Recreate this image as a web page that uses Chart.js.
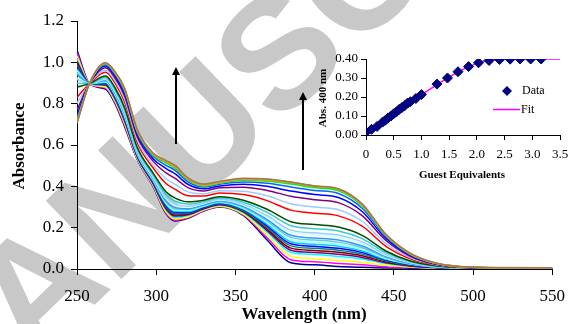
<!DOCTYPE html>
<html>
<head>
<meta charset="utf-8">
<script src="https://cdn.jsdelivr.net/npm/chart.js@4.4.1/dist/chart.umd.min.js"></script>
<style>
  html, body { margin: 0; padding: 0; background: #fff; }
  #wrap { position: relative; width: 576px; height: 324px; overflow: hidden; }
  #main { position: absolute; left: 0; top: 0; }
  #inset { position: absolute; left: 290px; top: 40px; }
</style>
</head>
<body>
<div id="wrap">
  <canvas id="main" width="576" height="324"></canvas>
  <canvas id="inset" width="286" height="150"></canvas>
</div>
<script>
// wavelengths (nm) shared by every spectrum
const wavelengths = [250, 258, 268, 274, 280, 288, 298, 306, 312, 320, 330, 340, 355, 370, 385, 400, 415, 430, 445, 460, 475, 490, 510, 550];

// absorbance spectra, one per guest addition (0 eq first)
const spec00 = [1.060, 0.895, 0.870, 0.800, 0.690, 0.530, 0.400, 0.270, 0.232, 0.245, 0.280, 0.300, 0.260, 0.140, 0.030, 0.020, 0.012, 0.008, 0.005, 0.004, 0.003, 0.003, 0.003, 0.003];
const spec01 = [1.046, 0.895, 0.875, 0.806, 0.697, 0.532, 0.402, 0.274, 0.236, 0.248, 0.282, 0.302, 0.263, 0.151, 0.045, 0.035, 0.027, 0.020, 0.011, 0.007, 0.004, 0.003, 0.003, 0.003];
const spec02 = [1.032, 0.895, 0.880, 0.812, 0.704, 0.535, 0.406, 0.279, 0.242, 0.252, 0.285, 0.304, 0.266, 0.163, 0.061, 0.050, 0.041, 0.032, 0.018, 0.010, 0.005, 0.004, 0.003, 0.003];
const spec03 = [1.014, 0.896, 0.887, 0.820, 0.714, 0.540, 0.411, 0.288, 0.251, 0.259, 0.289, 0.309, 0.273, 0.178, 0.081, 0.070, 0.061, 0.048, 0.026, 0.013, 0.007, 0.004, 0.003, 0.003];
const spec04 = [1.005, 0.896, 0.890, 0.824, 0.718, 0.543, 0.414, 0.293, 0.256, 0.262, 0.291, 0.311, 0.276, 0.186, 0.091, 0.080, 0.071, 0.056, 0.030, 0.015, 0.007, 0.004, 0.003, 0.003];
const spec05 = [0.996, 0.896, 0.893, 0.828, 0.723, 0.546, 0.417, 0.298, 0.261, 0.266, 0.294, 0.313, 0.279, 0.193, 0.101, 0.090, 0.081, 0.064, 0.034, 0.017, 0.008, 0.005, 0.003, 0.003];
const spec06 = [0.986, 0.896, 0.896, 0.832, 0.728, 0.549, 0.421, 0.303, 0.267, 0.270, 0.297, 0.316, 0.283, 0.201, 0.112, 0.100, 0.091, 0.072, 0.039, 0.019, 0.009, 0.005, 0.004, 0.003];
const spec07 = [0.977, 0.896, 0.900, 0.836, 0.733, 0.552, 0.424, 0.309, 0.273, 0.274, 0.299, 0.318, 0.287, 0.209, 0.122, 0.110, 0.100, 0.080, 0.043, 0.021, 0.009, 0.005, 0.004, 0.003];
const spec08 = [0.968, 0.896, 0.903, 0.840, 0.737, 0.555, 0.427, 0.314, 0.278, 0.278, 0.302, 0.321, 0.290, 0.216, 0.132, 0.120, 0.110, 0.087, 0.047, 0.023, 0.010, 0.005, 0.004, 0.003];
const spec09 = [0.959, 0.896, 0.906, 0.843, 0.742, 0.558, 0.431, 0.320, 0.284, 0.283, 0.305, 0.324, 0.294, 0.224, 0.142, 0.130, 0.120, 0.095, 0.051, 0.025, 0.011, 0.006, 0.004, 0.003];
const spec10 = [0.949, 0.897, 0.910, 0.847, 0.747, 0.561, 0.435, 0.326, 0.291, 0.288, 0.308, 0.326, 0.299, 0.232, 0.153, 0.140, 0.130, 0.103, 0.056, 0.026, 0.012, 0.006, 0.004, 0.003];
const spec11 = [0.940, 0.897, 0.913, 0.851, 0.752, 0.565, 0.438, 0.332, 0.297, 0.292, 0.311, 0.329, 0.303, 0.239, 0.163, 0.150, 0.140, 0.111, 0.060, 0.028, 0.012, 0.006, 0.004, 0.003];
const spec12 = [0.926, 0.897, 0.918, 0.857, 0.759, 0.570, 0.444, 0.342, 0.307, 0.299, 0.316, 0.334, 0.310, 0.251, 0.178, 0.165, 0.155, 0.123, 0.066, 0.031, 0.013, 0.006, 0.004, 0.003];
const spec13 = [0.917, 0.897, 0.921, 0.861, 0.763, 0.574, 0.448, 0.348, 0.314, 0.304, 0.319, 0.337, 0.314, 0.258, 0.188, 0.175, 0.164, 0.131, 0.070, 0.033, 0.014, 0.007, 0.004, 0.003];
const spec14 = [0.899, 0.897, 0.928, 0.869, 0.773, 0.581, 0.457, 0.361, 0.328, 0.314, 0.326, 0.343, 0.323, 0.274, 0.209, 0.195, 0.184, 0.147, 0.079, 0.037, 0.015, 0.007, 0.004, 0.003];
const spec15 = [0.880, 0.898, 0.934, 0.877, 0.782, 0.589, 0.465, 0.375, 0.343, 0.325, 0.333, 0.350, 0.333, 0.289, 0.229, 0.215, 0.203, 0.163, 0.087, 0.040, 0.017, 0.008, 0.005, 0.004];
const spec16 = [0.830, 0.898, 0.952, 0.899, 0.808, 0.611, 0.490, 0.415, 0.385, 0.355, 0.353, 0.368, 0.360, 0.331, 0.285, 0.270, 0.257, 0.207, 0.110, 0.051, 0.021, 0.009, 0.005, 0.004];
const spec17 = [0.802, 0.899, 0.962, 0.911, 0.823, 0.624, 0.504, 0.438, 0.409, 0.373, 0.364, 0.379, 0.376, 0.354, 0.316, 0.300, 0.287, 0.231, 0.123, 0.056, 0.023, 0.010, 0.005, 0.004];
const spec18 = [0.770, 0.899, 0.974, 0.924, 0.839, 0.640, 0.522, 0.466, 0.438, 0.394, 0.378, 0.393, 0.396, 0.380, 0.352, 0.335, 0.321, 0.258, 0.138, 0.063, 0.025, 0.010, 0.005, 0.004];
const spec19 = [0.747, 0.899, 0.982, 0.934, 0.851, 0.651, 0.534, 0.487, 0.460, 0.410, 0.388, 0.402, 0.410, 0.400, 0.377, 0.360, 0.346, 0.278, 0.148, 0.068, 0.027, 0.011, 0.006, 0.005];
const spec20 = [0.729, 0.900, 0.988, 0.942, 0.861, 0.661, 0.545, 0.503, 0.477, 0.422, 0.397, 0.410, 0.421, 0.415, 0.397, 0.380, 0.365, 0.294, 0.157, 0.071, 0.029, 0.012, 0.006, 0.005];
const spec21 = [0.716, 0.900, 0.993, 0.947, 0.867, 0.667, 0.551, 0.514, 0.489, 0.431, 0.402, 0.415, 0.429, 0.425, 0.411, 0.393, 0.378, 0.305, 0.162, 0.074, 0.030, 0.012, 0.006, 0.005];
const spec22 = [0.713, 0.900, 0.994, 0.949, 0.869, 0.669, 0.553, 0.517, 0.492, 0.433, 0.404, 0.417, 0.431, 0.428, 0.415, 0.397, 0.382, 0.308, 0.164, 0.074, 0.030, 0.012, 0.006, 0.005];
const spec23 = [0.710, 0.900, 0.995, 0.950, 0.870, 0.670, 0.555, 0.520, 0.495, 0.435, 0.405, 0.418, 0.433, 0.430, 0.418, 0.400, 0.385, 0.310, 0.165, 0.075, 0.030, 0.012, 0.006, 0.005];
const spec24 = [0.712, 0.900, 0.996, 0.952, 0.872, 0.672, 0.557, 0.522, 0.497, 0.437, 0.407, 0.420, 0.435, 0.432, 0.419, 0.400, 0.386, 0.312, 0.166, 0.076, 0.031, 0.012, 0.006, 0.005];
const spec25 = [0.708, 0.900, 0.997, 0.953, 0.874, 0.674, 0.559, 0.524, 0.499, 0.439, 0.409, 0.422, 0.437, 0.434, 0.420, 0.401, 0.387, 0.313, 0.167, 0.077, 0.031, 0.013, 0.007, 0.005];
const spec26 = [0.705, 0.900, 0.998, 0.955, 0.876, 0.676, 0.561, 0.526, 0.501, 0.441, 0.411, 0.424, 0.439, 0.436, 0.421, 0.402, 0.388, 0.315, 0.168, 0.078, 0.032, 0.013, 0.007, 0.006];

const spectra = [spec00, spec01, spec02, spec03, spec04, spec05, spec06, spec07, spec08, spec09,
  spec10, spec11, spec12, spec13, spec14, spec15, spec16, spec17, spec18, spec19,
  spec20, spec21, spec22, spec23, spec24, spec25, spec26];

const lineColors = ["#000080", "#FF00FF", "#FFFF00", "#00FFFF", "#800080", "#800000", "#008080", "#0000FF", "#00CCFF", "#99FFFF",
  "#66CCCC", "#3399FF", "#CCFFFF", "#99CCFF", "#33CCCC", "#004D00", "#FF0000", "#99CCFF", "#800080", "#0000FF",
  "#0066FF", "#00FF00", "#33CC33", "#99CC00", "#FF9900", "#CC9966", "#A07850"];

// inset: absorbance at 400 nm vs guest equivalents
const guestEq = [0, 0.1, 0.2, 0.3, 0.35, 0.4, 0.45, 0.5, 0.55, 0.6, 0.65, 0.7, 0.75, 0.8, 0.9, 1.0, 1.28, 1.47, 1.66, 1.85, 2.03, 2.22, 2.41, 2.6, 2.78, 2.97, 3.16];
const abs400 = [0.015, 0.030, 0.045, 0.068, 0.078, 0.090, 0.100, 0.112, 0.122, 0.135, 0.145, 0.155, 0.168, 0.175, 0.192, 0.213, 0.268, 0.300, 0.333, 0.360, 0.380, 0.392, 0.397, 0.399, 0.400, 0.400, 0.400];
const fitEq = [0, 0.5, 1.0, 1.5, 1.75, 2.0, 2.2, 2.4, 2.6, 3.5];
const fitAbs = [0.015, 0.113, 0.212, 0.305, 0.345, 0.377, 0.393, 0.399, 0.400, 0.400];

const serif = '"Liberation Serif", "Times New Roman", serif';

function drawArrow(ctx, x, yBottom, yTip) {
  ctx.save();
  ctx.strokeStyle = "#000";
  ctx.fillStyle = "#000";
  ctx.lineWidth = 2;
  ctx.beginPath();
  ctx.moveTo(x, yBottom);
  ctx.lineTo(x, yTip + 6);
  ctx.stroke();
  ctx.beginPath();
  ctx.moveTo(x, yTip);
  ctx.lineTo(x - 4, yTip + 8);
  ctx.lineTo(x + 4, yTip + 8);
  ctx.closePath();
  ctx.fill();
  ctx.restore();
}

const mainDecor = {
  id: "mainDecor",
  beforeDraw(chart) {
    const ctx = chart.ctx;
    ctx.save();
    ctx.fillStyle = "#fff";
    ctx.fillRect(0, 0, chart.width, chart.height);
    // watermark
    ctx.translate(-63, 457);
    ctx.rotate(-44 * Math.PI / 180);
    ctx.font = 'bold 158px "Liberation Sans", Arial, sans-serif';
    ctx.fillStyle = "rgb(200,200,200)";
    ctx.fillText("MANUSCRIPT", 0, 0);
    ctx.restore();
  },
  afterDraw(chart) {
    const ctx = chart.ctx;
    drawArrow(ctx, 176, 144, 67);
    drawArrow(ctx, 303, 170, 92);
    ctx.save();
    ctx.fillStyle = "#000";
    ctx.font = "bold 17px " + serif;
    ctx.textAlign = "center";
    ctx.textBaseline = "middle";
    ctx.fillText("Wavelength (nm)", 304, 315);
    ctx.translate(20, 146);
    ctx.rotate(-Math.PI / 2);
    ctx.fillText("Absorbance", 0, 0);
    ctx.restore();
  }
};

new Chart(document.getElementById("main"), {
  type: "line",
  data: {
    datasets: spectra.map((s, i) => ({
      data: wavelengths.map((w, j) => ({ x: w, y: s[j] })),
      borderColor: lineColors[i],
      borderWidth: 1.5,
      pointRadius: 0,
      fill: false,
      cubicInterpolationMode: "monotone",
      order: spectra.length - i,
    })),
  },
  options: {
    responsive: false,
    animation: false,
    devicePixelRatio: 1,
    layout: { padding: { top: 21, right: 13, left: 0, bottom: 0 } },
    plugins: { legend: { display: false }, tooltip: { enabled: false } },
    scales: {
      x: {
        type: "linear",
        min: 250,
        max: 550,
        ticks: { stepSize: 50, color: "#000", padding: 11, maxRotation: 0, font: { family: serif, size: 17 } },
        grid: { drawOnChartArea: false, color: "#000", tickLength: 6 },
        border: { color: "#000", width: 1 },
        afterFit(scale) { scale.height = 55; },
      },
      y: {
        min: 0,
        max: 1.2,
        ticks: { stepSize: 0.2, color: "#000", padding: 7, font: { family: serif, size: 17 },
          callback: (v) => v.toFixed(1) },
        grid: { drawOnChartArea: false, color: "#000", tickLength: 6 },
        border: { color: "#000", width: 1 },
        afterFit(scale) { scale.width = 77; },
      },
    },
  },
  plugins: [mainDecor],
});

const insetDecor = {
  id: "insetDecor",
  afterDraw(chart) {
    const ctx = chart.ctx;
    ctx.save();
    ctx.fillStyle = "#000";
    ctx.font = "bold 11px " + serif;
    ctx.textAlign = "center";
    ctx.textBaseline = "middle";
    ctx.fillText("Guest Equivalents", 172, 135);
    ctx.save();
    ctx.translate(33, 58);
    ctx.rotate(-Math.PI / 2);
    ctx.fillText("Abs. 400 nm", 0, 0);
    ctx.restore();
    // legend
    ctx.fillStyle = "#000080";
    ctx.beginPath();
    ctx.moveTo(217, 46);
    ctx.lineTo(222, 51);
    ctx.lineTo(217, 56);
    ctx.lineTo(212, 51);
    ctx.closePath();
    ctx.fill();
    ctx.strokeStyle = "#FF00FF";
    ctx.lineWidth = 1.5;
    ctx.beginPath();
    ctx.moveTo(203, 69.5);
    ctx.lineTo(230, 69.5);
    ctx.stroke();
    ctx.fillStyle = "#000";
    ctx.font = "12px " + serif;
    ctx.textAlign = "left";
    ctx.fillText("Data", 232, 51);
    ctx.fillText("Fit", 231, 69.5);
    ctx.restore();
  }
};

new Chart(document.getElementById("inset"), {
  type: "line",
  data: {
    datasets: [
      {
        data: guestEq.map((x, i) => ({ x: x, y: abs400[i] })),
        showLine: false,
        pointStyle: "rectRot",
        pointRadius: 5,
        backgroundColor: "#000080",
        borderColor: "#000080",
        borderWidth: 1,
        order: 0,
      },
      {
        data: fitEq.map((x, i) => ({ x: x, y: fitAbs[i] })),
        borderColor: "#FF00FF",
        borderWidth: 1.5,
        pointRadius: 0,
        fill: false,
        cubicInterpolationMode: "monotone",
        order: 1,
      },
    ],
  },
  options: {
    responsive: false,
    animation: false,
    devicePixelRatio: 1,
    layout: { padding: { top: 19, right: 16, left: 0, bottom: 0 } },
    plugins: { legend: { display: false }, tooltip: { enabled: false } },
    scales: {
      x: {
        type: "linear",
        min: 0,
        max: 3.5,
        ticks: { stepSize: 0.5, color: "#000", padding: 7, maxRotation: 0, font: { family: serif, size: 13 } },
        grid: { drawOnChartArea: false, color: "#000", tickLength: 5 },
        border: { color: "#000", width: 1 },
        afterFit(scale) { scale.height = 55; },
      },
      y: {
        min: 0,
        max: 0.4,
        ticks: { stepSize: 0.1, color: "#000", padding: 3, font: { family: serif, size: 13 },
          callback: (v) => v.toFixed(2) },
        grid: { drawOnChartArea: false, color: "#000", tickLength: 5 },
        border: { color: "#000", width: 1 },
        afterFit(scale) { scale.width = 76; },
      },
    },
  },
  plugins: [insetDecor],
});
</script>
</body>
</html>
